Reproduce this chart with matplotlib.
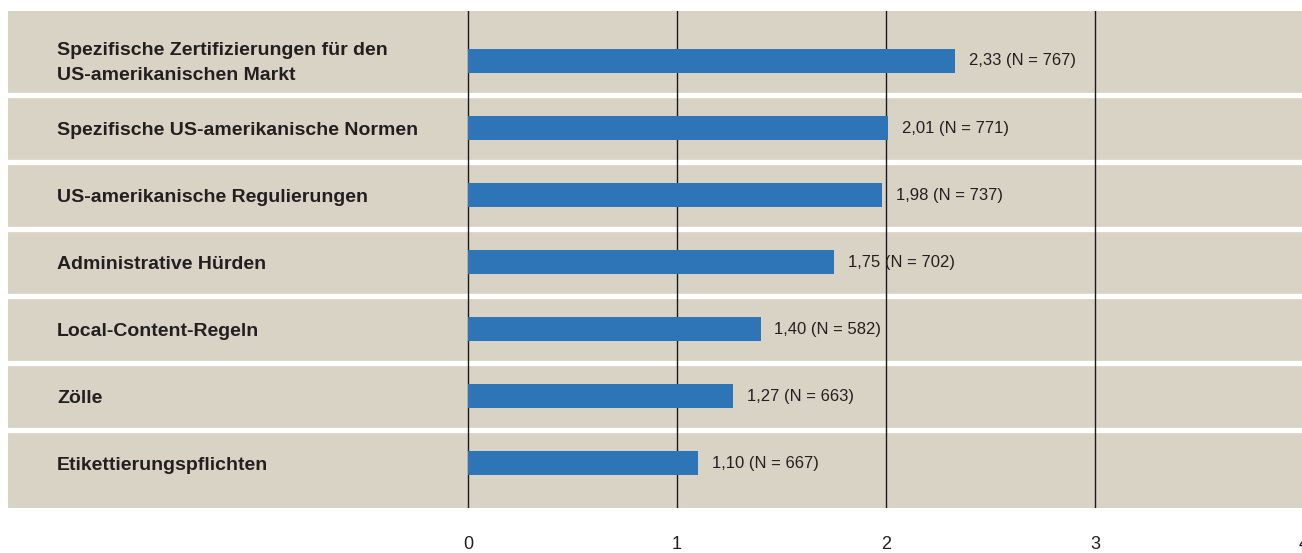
import matplotlib.pyplot as plt

# Daten
kategorien = [
    "Spezifische Zertifizierungen für den\nUS-amerikanischen Markt",
    "Spezifische US-amerikanische Normen",
    "US-amerikanische Regulierungen",
    "Administrative Hürden",
    "Local-Content-Regeln",
    "Zölle",
    "Etikettierungspflichten",
]
werte = [2.33, 2.01, 1.98, 1.75, 1.40, 1.27, 1.10]
anzahl = [767, 771, 737, 702, 582, 663, 667]
ticks = [0, 1, 2, 3, 4]

beige = "#d9d3c6"
blau = "#2e75b7"
textfarbe = "#231f20"
schrift = ["Liberation Sans", "DejaVu Sans"]

W, H = 1302, 553
fig = plt.figure(figsize=(W / 100, H / 100), dpi=100)
# Achse in Pixeln: links 8, rechts 1304, oben 11, unten 508
ax = fig.add_axes([8 / W, 1 - 508 / H, (1304 - 8) / W, (508 - 11) / H])
ax.set_facecolor(beige)

pos = list(range(len(kategorien)))
ax.set_xlim(-2.201, 4.0)
ax.set_ylim(6.67, -0.746)

# weiße Trennlinien zwischen den Zeilen
for p in pos[:-1]:
    ax.axhline(p + 0.5, color="white", lw=3.8, zorder=1)

# senkrechte Gitterlinien
for t in ticks:
    ax.axvline(t, color="#1a1a1a", lw=1.0, zorder=2)

ax.barh(pos, werte, height=0.36, color=blau, zorder=3)

for p, k in zip(pos, kategorien):
    ax.text(0.0378, p + 0.03, k, transform=ax.get_yaxis_transform(),
            ha="left", va="center", fontsize=14, fontweight="bold",
            color=textfarbe, family=schrift, linespacing=1.65, zorder=4)

for p, v, n in zip(pos, werte, anzahl):
    txt = f"{v:.2f}".replace(".", ",") + f" (N = {n})"
    ax.annotate(txt, (v, p), xytext=(10, 0), textcoords="offset points",
                ha="left", va="center", fontsize=12, color=textfarbe,
                family=schrift, zorder=4)

ax.set_xticks(ticks)
ax.set_xticklabels([str(t) for t in ticks], family=schrift, fontsize=13,
                   color=textfarbe)
ax.set_yticks([])
ax.tick_params(axis="x", length=0, pad=20)
for s in ax.spines.values():
    s.set_visible(False)

fig.savefig("out.png", dpi=100)
